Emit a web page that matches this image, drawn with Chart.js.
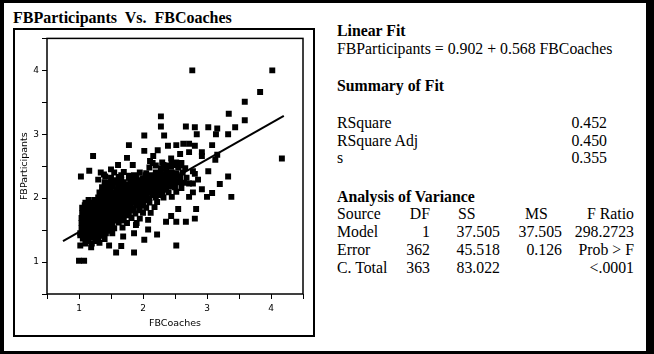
<!DOCTYPE html>
<html>
<head>
<meta charset="utf-8">
<script src="https://cdn.jsdelivr.net/npm/chart.js@4.4.1/dist/chart.umd.min.js"></script>
<style>
  html, body { margin: 0; padding: 0; background: #fff; }
  #page { position: relative; width: 654px; height: 354px; overflow: hidden;
          font-family: "Liberation Serif", "Times New Roman", serif; color: #000; }
  #frame { position: absolute; left: 0; top: 0; width: 654px; height: 354px; box-sizing: border-box;
           border-style: solid; border-color: #000; border-width: 3px 8px 3px 4px; pointer-events: none; }
  #plotBox { position: absolute; left: 13px; top: 28px; width: 302px; height: 309px;
             box-sizing: border-box; border: 2px solid #000; }
  #chartWrap { position: absolute; left: 15px; top: 30px; width: 298px; height: 305px; }
  .title { position: absolute; left: 13px; top: 10px; font-size: 16px; line-height: 16px;
           font-weight: bold; white-space: pre; }
  .t { position: absolute; font-size: 15.8px; line-height: 15px; white-space: pre; }
  .b { font-weight: bold; }
</style>
</head>
<body>
<div id="page">
  <div class="title">FBParticipants  Vs.  FBCoaches</div>
  <div id="plotBox"></div>
  <div id="chartWrap"><canvas id="fitChart" width="298" height="305"></canvas></div>

  <div class="t b" style="left:337px;top:23px">Linear Fit</div>
  <div class="t" style="left:337px;top:41px">FBParticipants = 0.902 + 0.568 FBCoaches</div>

  <div class="t b" style="left:337px;top:78px">Summary of Fit</div>
  <div class="t" style="left:337px;top:115px">RSquare</div>
  <div class="t" style="right:47px;top:115px">0.452</div>
  <div class="t" style="left:337px;top:133px">RSquare Adj</div>
  <div class="t" style="right:47px;top:133px">0.450</div>
  <div class="t" style="left:337px;top:150px">s</div>
  <div class="t" style="right:47px;top:150px">0.355</div>

  <div class="t b" style="left:337px;top:189px">Analysis of Variance</div>
  <div class="t" style="left:337px;top:206px">Source</div>
  <div class="t" style="right:224px;top:206px">DF</div>
  <div class="t" style="left:458px;top:206px">SS</div>
  <div class="t" style="left:525px;top:206px">MS</div>
  <div class="t" style="right:20px;top:206px">F Ratio</div>

  <div class="t" style="left:337px;top:224px">Model</div>
  <div class="t" style="right:224px;top:224px">1</div>
  <div class="t" style="right:154px;top:224px">37.505</div>
  <div class="t" style="right:92px;top:224px">37.505</div>
  <div class="t" style="right:20px;top:224px">298.2723</div>

  <div class="t" style="left:337px;top:242px">Error</div>
  <div class="t" style="right:224px;top:242px">362</div>
  <div class="t" style="right:154px;top:242px">45.518</div>
  <div class="t" style="right:92px;top:242px">0.126</div>
  <div class="t" style="right:20px;top:242px">Prob &gt; F</div>

  <div class="t" style="left:337px;top:260px">C. Total</div>
  <div class="t" style="right:224px;top:260px">363</div>
  <div class="t" style="right:154px;top:260px">83.022</div>
  <div class="t" style="right:20px;top:260px">&lt;.0001</div>

  <div id="frame"></div>
</div>

<script>
// values (FBCoaches on x, FBParticipants on y)
const fbCoaches = [
  // sparse points, upper right
  2.77, 4.02, 3.83, 3.59, 3.34, 2.28, 2.28, 2.67, 3.59, 3.44,
  3.33, 3.02, 3.16, 3.14, 2.81, 2.84, 3.08, 2.72, 2.81, 2.72,
  2.92, 2.92, 3.16, 3.13, 4.17, 2.78, 2.81, 3.02, 3.33, 2.72,
  2.78, 2.86, 3.20, 2.92, 2.78, 3.08, 3.00, 3.38, 2.72, 2.83,
  2.81,
  // scattered points, upper left / middle
  2.02, 1.78, 2.33, 1.03, 1.16, 1.22, 1.75, 2.02, 2.16, 2.23,
  2.39, 2.52, 2.63, 2.58, 2.44, 1.61, 1.50, 1.78, 1.39, 1.30,
  2.11, 1.84, 1.34, 1.41, 1.42, 1.34, 1.53,
  // scattered points, lower part
  1.00, 1.08, 1.02, 1.02, 1.19, 1.58, 1.86, 2.02, 2.22, 2.52,
  1.86, 1.66, 1.47, 2.55, 2.44, 2.36, 2.52, 2.67, 2.08, 2.08,
  1.69, 1.89,
  // dense cloud, row by row
  2.15, 2.30, 2.45, 2.52, 2.60,
  2.20, 2.32, 2.40, 2.50, 2.58,
  2.10, 2.28, 2.36, 2.44, 2.55, 2.66,
  1.55, 1.70, 1.95, 2.05, 2.20, 2.28, 2.36, 2.45, 2.52, 2.62,
  1.66, 1.86, 2.04, 2.12, 2.20, 2.28, 2.36, 2.44, 2.53,
  1.50, 1.62, 1.78, 1.90, 2.00, 2.08, 2.16, 2.24, 2.32, 2.40, 2.48, 2.58, 2.68,
  1.54, 1.66, 1.84, 1.92, 2.00, 2.08, 2.16, 2.24, 2.32, 2.40, 2.50,
  1.40, 1.48, 1.58, 1.70, 1.80, 1.88, 1.96, 2.04, 2.12, 2.20, 2.28, 2.36, 2.44, 2.55, 2.64,
  1.44, 1.53, 1.66, 1.75, 1.84, 1.92, 2.00, 2.08, 2.16, 2.24, 2.32, 2.40, 2.47,
  1.36, 1.45, 1.53, 1.62, 1.70, 1.78, 1.86, 1.94, 2.02, 2.10, 2.18, 2.26, 2.34, 2.42, 2.50, 2.60,
  1.40, 1.49, 1.58, 1.66, 1.74, 1.82, 1.90, 1.98, 2.06, 2.14, 2.22, 2.36,
  1.32, 1.40, 1.48, 1.56, 1.64, 1.72, 1.80, 1.88, 1.96, 2.04, 2.12, 2.20, 2.30, 2.40, 2.52,
  1.34, 1.42, 1.50, 1.58, 1.66, 1.74, 1.82, 1.90, 1.98, 2.06, 2.15, 2.26,
  1.30, 1.38, 1.46, 1.54, 1.62, 1.70, 1.78, 1.86, 1.94, 2.02, 2.10, 2.20, 2.32, 2.45,
  1.15, 1.24, 1.32, 1.40, 1.48, 1.56, 1.64, 1.72, 1.80, 1.88, 1.96, 2.05,
  1.10, 1.20, 1.28, 1.36, 1.44, 1.52, 1.60, 1.68, 1.76, 1.84, 1.92, 2.00, 2.10, 2.22,
  1.09, 1.17, 1.25, 1.33, 1.41, 1.49, 1.57, 1.65, 1.73, 1.81, 1.90, 2.00,
  1.05, 1.13, 1.21, 1.29, 1.37, 1.45, 1.53, 1.61, 1.69, 1.77, 1.85, 1.95, 2.05, 2.18,
  1.09, 1.17, 1.25, 1.33, 1.41, 1.49, 1.57, 1.65, 1.73, 1.83, 1.94,
  1.05, 1.13, 1.21, 1.29, 1.37, 1.45, 1.53, 1.61, 1.69, 1.78, 1.88, 2.00, 2.12,
  1.08, 1.16, 1.24, 1.32, 1.40, 1.48, 1.56, 1.65, 1.75,
  1.04, 1.12, 1.20, 1.28, 1.36, 1.44, 1.52, 1.60, 1.70, 1.82, 1.95,
  1.08, 1.16, 1.24, 1.32, 1.40, 1.48, 1.57, 1.68,
  1.04, 1.12, 1.20, 1.28, 1.36, 1.44, 1.52, 1.62, 1.75, 1.90,
  1.08, 1.16, 1.24, 1.32, 1.40, 1.50,
  1.04, 1.12, 1.20, 1.28, 1.36, 1.44, 1.55, 1.68,
  1.06, 1.14, 1.22, 1.30, 1.38, 1.47,
  1.02, 1.10, 1.18, 1.26, 1.34, 1.42, 1.52,
  1.10, 1.18, 1.26, 1.36,
  1.06, 1.14, 1.22, 1.30, 1.40,
  1.14, 1.26,
  1.10, 1.20, 1.32
];

const fbParticipants = [
  4.00, 4.00, 3.66, 3.51, 3.32, 3.28, 3.12, 3.12, 3.22, 3.11,
  3.00, 3.11, 3.09, 3.00, 3.11, 3.00, 2.83, 2.85, 2.82, 2.72,
  2.72, 2.66, 2.68, 2.60, 2.62, 2.42, 2.38, 2.42, 2.34, 2.23,
  2.23, 2.29, 2.22, 2.14, 2.09, 2.08, 2.02, 2.02, 2.02, 1.83,
  1.68,

  2.98, 2.83, 2.98, 2.34, 2.43, 2.66, 2.63, 2.74, 2.66, 2.75,
  2.82, 2.83, 2.85, 2.69, 2.62, 2.52, 2.45, 2.35, 2.37, 2.29,
  2.58, 2.52, 2.40, 2.34, 2.14, 2.03, 1.95,

  1.02, 1.02, 1.42, 1.26, 1.23, 1.15, 1.15, 1.35, 1.43, 1.26,
  1.45, 1.25, 1.26, 1.83, 1.72, 1.63, 1.63, 1.63, 1.66, 1.51,
  1.40, 1.58,

  2.55, 2.56, 2.54, 2.56, 2.55,
  2.51, 2.52, 2.51, 2.52, 2.51,
  2.48, 2.47, 2.48, 2.49, 2.48, 2.47,
  2.40, 2.41, 2.40, 2.39, 2.40, 2.41, 2.40, 2.40, 2.39, 2.40,
  2.36, 2.36, 2.36, 2.36, 2.36, 2.36, 2.36, 2.36, 2.36,
  2.32, 2.33, 2.32, 2.32, 2.31, 2.32, 2.33, 2.32, 2.32, 2.31, 2.32, 2.33, 2.32,
  2.28, 2.28, 2.28, 2.28, 2.28, 2.28, 2.28, 2.28, 2.28, 2.28, 2.28,
  2.25, 2.24, 2.25, 2.25, 2.26, 2.25, 2.24, 2.25, 2.25, 2.24, 2.25, 2.26, 2.25, 2.25, 2.24,
  2.21, 2.21, 2.21, 2.21, 2.21, 2.21, 2.21, 2.21, 2.21, 2.21, 2.21, 2.21, 2.21,
  2.17, 2.17, 2.18, 2.17, 2.16, 2.17, 2.17, 2.18, 2.17, 2.17, 2.16, 2.17, 2.17, 2.18, 2.17, 2.16,
  2.13, 2.13, 2.13, 2.13, 2.13, 2.13, 2.13, 2.13, 2.13, 2.13, 2.13, 2.13,
  2.09, 2.09, 2.10, 2.09, 2.09, 2.08, 2.09, 2.09, 2.10, 2.09, 2.09, 2.08, 2.09, 2.09, 2.10,
  2.05, 2.05, 2.05, 2.05, 2.05, 2.05, 2.05, 2.05, 2.05, 2.05, 2.05, 2.05,
  2.01, 2.01, 2.02, 2.01, 2.00, 2.01, 2.01, 2.02, 2.01, 2.01, 2.00, 2.01, 2.01, 2.02,
  1.97, 1.97, 1.97, 1.97, 1.97, 1.97, 1.97, 1.97, 1.97, 1.97, 1.97, 1.97,
  1.93, 1.93, 1.94, 1.93, 1.92, 1.93, 1.93, 1.94, 1.93, 1.93, 1.92, 1.93, 1.93, 1.94,
  1.89, 1.89, 1.89, 1.89, 1.89, 1.89, 1.89, 1.89, 1.89, 1.89, 1.89, 1.89,
  1.85, 1.85, 1.86, 1.85, 1.84, 1.85, 1.85, 1.86, 1.85, 1.85, 1.84, 1.85, 1.85, 1.86,
  1.81, 1.81, 1.81, 1.81, 1.81, 1.81, 1.81, 1.81, 1.81, 1.81, 1.81,
  1.77, 1.77, 1.78, 1.77, 1.76, 1.77, 1.77, 1.78, 1.77, 1.77, 1.76, 1.77, 1.77,
  1.73, 1.73, 1.73, 1.73, 1.73, 1.73, 1.73, 1.73, 1.73,
  1.69, 1.69, 1.70, 1.69, 1.68, 1.69, 1.69, 1.70, 1.69, 1.69, 1.68,
  1.65, 1.65, 1.65, 1.65, 1.65, 1.65, 1.65, 1.65,
  1.61, 1.61, 1.62, 1.61, 1.60, 1.61, 1.61, 1.62, 1.61, 1.61,
  1.57, 1.57, 1.57, 1.57, 1.57, 1.57,
  1.53, 1.53, 1.54, 1.53, 1.52, 1.53, 1.53, 1.54,
  1.49, 1.49, 1.49, 1.49, 1.49, 1.49,
  1.45, 1.45, 1.46, 1.45, 1.44, 1.45, 1.45,
  1.41, 1.41, 1.41, 1.41,
  1.37, 1.37, 1.38, 1.37, 1.36,
  1.33, 1.33,
  1.29, 1.29, 1.30
];

// fitted line from the report
const fitIntercept = 0.902;
const fitSlope = 0.568;
const fitRange = [0.75, 4.2];

const axisLabels = [1, 2, 3, 4];

const points = fbCoaches.map((x, i) => ({ x: x, y: fbParticipants[i] }));
const fitLine = fitRange.map(x => ({ x: x, y: fitIntercept + fitSlope * x }));

const plotBorder = {
  id: 'plotBorder',
  afterDraw(chart) {
    const { ctx, chartArea } = chart;
    ctx.save();
    ctx.strokeStyle = '#000';
    ctx.lineWidth = 1.5;
    ctx.strokeRect(chartArea.left, chartArea.top, chartArea.right - chartArea.left, chartArea.bottom - chartArea.top);
    ctx.restore();
  }
};

const tickFont = { family: 'DejaVu Sans', size: 9 };
const titleFont = { family: 'DejaVu Sans', size: 9.5 };
const showLabel = v => axisLabels.includes(v) ? String(v) : '';

const ctx = document.getElementById('fitChart').getContext('2d');
new Chart(ctx, {
  type: 'scatter',
  data: {
    datasets: [
      {
        data: points,
        pointStyle: 'rect',
        pointRadius: 4.2,
        backgroundColor: '#000',
        borderWidth: 0
      },
      {
        type: 'line',
        data: fitLine,
        borderColor: '#000',
        borderWidth: 2,
        pointRadius: 0,
        fill: false
      }
    ]
  },
  options: {
    responsive: false,
    animation: false,
    layout: { padding: { top: 6, right: 10, left: 0, bottom: 0 } },
    plugins: { legend: { display: false }, tooltip: { enabled: false } },
    scales: {
      x: {
        type: 'linear',
        min: 0.5,
        max: 4.5,
        ticks: { stepSize: 0.5, callback: showLabel, font: tickFont, color: '#000', padding: 4, maxRotation: 0, autoSkip: false },
        grid: { display: true, drawOnChartArea: false, drawTicks: true, tickLength: 5, color: '#000' },
        border: { display: false },
        title: { display: true, text: 'FBCoaches', font: titleFont, color: '#000', padding: { top: 0, bottom: 6 } },
        afterFit(scale) { scale.height = 41; }
      },
      y: {
        type: 'linear',
        min: 0.5,
        max: 4.5,
        ticks: { stepSize: 0.5, callback: showLabel, font: tickFont, color: '#000', padding: 3, autoSkip: false },
        grid: { display: true, drawOnChartArea: false, drawTicks: true, tickLength: 5, color: '#000' },
        border: { display: false },
        title: { display: true, text: 'FBParticipants', font: titleFont, color: '#000', padding: { top: 4, bottom: 0 } },
        afterFit(scale) { scale.width = 32; }
      }
    }
  },
  plugins: [plotBorder]
});
</script>
</body>
</html>
